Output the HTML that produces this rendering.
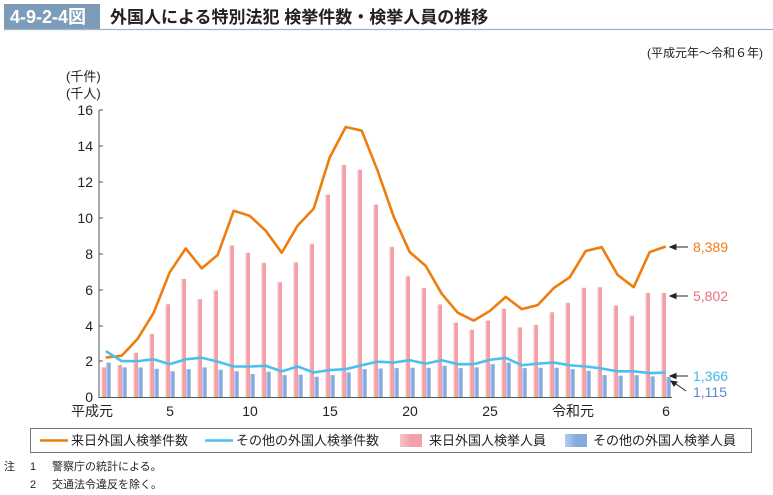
<!DOCTYPE html>
<html><head><meta charset="utf-8"><style>
body{margin:0;background:#fff;}
svg{display:block;font-family:"Liberation Sans","Noto Sans CJK JP",sans-serif;}
</style></head><body>
<svg width="773" height="495" viewBox="0 0 773 495" xmlns="http://www.w3.org/2000/svg">
<defs>
<linearGradient id="pk" x1="0" x2="1"><stop offset="0" stop-color="#f7c3c7"/><stop offset="0.5" stop-color="#f2a0a7"/><stop offset="1" stop-color="#f2a0a7"/></linearGradient>
<linearGradient id="bl" x1="0" x2="1"><stop offset="0" stop-color="#b4cdef"/><stop offset="0.5" stop-color="#86a9de"/><stop offset="1" stop-color="#86a9de"/></linearGradient>
</defs>
<rect x="4" y="4" width="96" height="25" fill="#7d9cb9"/>
<text x="10" y="23" font-size="18" font-weight="bold" fill="#fff">4-9-2-4図</text>
<line x1="4" y1="29.5" x2="773" y2="29.5" stroke="#9fb4c9" stroke-width="1.2"/>
<text x="110" y="23" font-size="17" font-weight="bold" fill="#222">外国人による特別法犯 検挙件数・検挙人員の推移</text>
<text x="763" y="57" font-size="12" fill="#222" text-anchor="end">(平成元年～令和６年)</text>
<text x="66" y="81" font-size="13" fill="#222">(千件)</text>
<text x="66" y="98" font-size="13" fill="#222">(千人)</text>
<g font-size="14" fill="#222" text-anchor="end">
<text x="93" y="115">16</text><text x="93" y="151">14</text><text x="93" y="187">12</text><text x="93" y="223">10</text><text x="93" y="259">8</text><text x="93" y="295">6</text><text x="93" y="331">4</text><text x="93" y="366">2</text><text x="93" y="402">0</text>
</g>
<g stroke="#555" stroke-width="1">
<line x1="99" y1="110" x2="99" y2="398"/>
<line x1="99" y1="397.5" x2="672" y2="397.5"/>
<line x1="99" y1="110" x2="103" y2="110"/><line x1="99" y1="146" x2="103" y2="146"/><line x1="99" y1="182" x2="103" y2="182"/><line x1="99" y1="218" x2="103" y2="218"/><line x1="99" y1="254" x2="103" y2="254"/><line x1="99" y1="290" x2="103" y2="290"/><line x1="99" y1="326" x2="103" y2="326"/><line x1="99" y1="361" x2="103" y2="361"/>
</g>
<g id="bars"></g>
<g font-size="14" fill="#222" text-anchor="middle">
<text x="92" y="416">平成元</text><text x="170" y="416">5</text><text x="250" y="416">10</text><text x="330" y="416">15</text><text x="410" y="416">20</text><text x="490" y="416">25</text><text x="573" y="416">令和元</text><text x="666" y="416">6</text>
</g>
<polyline id="ol" fill="none" stroke="#ee7d0e" stroke-width="2.6" stroke-linejoin="round"/>
<polyline id="cl" fill="none" stroke="#4dbfee" stroke-width="2.6" stroke-linejoin="round"/>
<g stroke="#222" stroke-width="1" fill="#222">
<line x1="672" y1="247" x2="688" y2="247"/><polygon points="670,247 676,244.5 676,249.5"/>
<line x1="672" y1="296" x2="688" y2="296"/><polygon points="670,296 676,293.5 676,298.5"/>
<line x1="672" y1="376" x2="688" y2="376"/><polygon points="670,376 676,373.5 676,378.5"/>
<line x1="673" y1="382" x2="686" y2="391"/><polygon points="671,381 677,382 674,386"/>
</g>
<g font-size="14">
<text x="693" y="252" fill="#ee7d0e">8,389</text>
<text x="693" y="301" fill="#e8707d">5,802</text>
<text x="693" y="381" fill="#3fb7ea">1,366</text>
<text x="693" y="397" fill="#5a88cf">1,115</text>
</g>
<rect x="30.5" y="428.5" width="721" height="24" fill="none" stroke="#777"/>
<g font-size="13" fill="#222">
<line x1="40" y1="440.5" x2="68" y2="440.5" stroke="#ee7d0e" stroke-width="2.6"/><text x="71" y="445">来日外国人検挙件数</text>
<line x1="205" y1="440.5" x2="233" y2="440.5" stroke="#4dbfee" stroke-width="2.6"/><text x="236" y="445">その他の外国人検挙件数</text>
<rect x="400" y="434" width="22" height="13" fill="url(#pk)"/><text x="429" y="445">来日外国人検挙人員</text>
<rect x="565" y="434" width="22" height="13" fill="url(#bl)"/><text x="593" y="445">その他の外国人検挙人員</text>
</g>
<g font-size="11" fill="#222">
<text x="4" y="470">注</text><text x="30" y="470">1</text><text x="52" y="470">警察庁の統計による。</text>
<text x="30" y="488">2</text><text x="52" y="488">交通法令違反を除く。</text>
</g>
<script>
var o=[2.2,2.3,3.25,4.7,6.95,8.28,7.17,7.92,10.38,10.1,9.27,8.04,9.56,10.5,13.35,15.05,14.85,12.6,10.05,8.08,7.31,5.76,4.7,4.26,4.79,5.58,4.9,5.12,6.07,6.67,8.14,8.35,6.8,6.12,8.08,8.389];
var c=[2.56,2.0,2.0,2.1,1.83,2.1,2.19,1.97,1.7,1.7,1.74,1.43,1.7,1.37,1.5,1.55,1.77,1.97,1.92,2.05,1.86,2.05,1.83,1.83,2.07,2.18,1.77,1.86,1.92,1.77,1.7,1.59,1.43,1.43,1.33,1.366];
var p=[1.65,1.79,2.47,3.51,5.17,6.58,5.45,5.94,8.45,8.04,7.48,6.4,7.5,8.54,11.28,12.93,12.67,10.73,8.37,6.73,6.07,5.16,4.15,3.75,4.26,4.92,3.88,4.02,4.72,5.25,6.09,6.12,5.1,4.53,5.8,5.802];
var b=[1.92,1.65,1.65,1.57,1.43,1.55,1.65,1.52,1.43,1.28,1.41,1.22,1.24,1.13,1.22,1.37,1.55,1.59,1.61,1.63,1.63,1.74,1.61,1.65,1.83,1.92,1.61,1.63,1.63,1.55,1.46,1.22,1.19,1.22,1.15,1.115];
var Y0=397,S=17.94,ns="http://www.w3.org/2000/svg",g=document.getElementById("bars");
function r(x,v,f){var e=document.createElementNS(ns,"rect");e.setAttribute("x",x);e.setAttribute("y",Y0-v*S);e.setAttribute("width",4.5);e.setAttribute("height",v*S);e.setAttribute("fill",f);g.appendChild(e);}
var po="",pc="";
for(var i=0;i<36;i++){r(101.5+16*i,p[i],"url(#pk)");r(106.2+16*i,b[i],"url(#bl)");
var x=105.7+16*i;po+=x+","+(Y0-o[i]*S)+" ";pc+=x+","+(Y0-c[i]*S)+" ";}
document.getElementById("ol").setAttribute("points",po);
document.getElementById("cl").setAttribute("points",pc);
</script>
</svg>
</body></html>
